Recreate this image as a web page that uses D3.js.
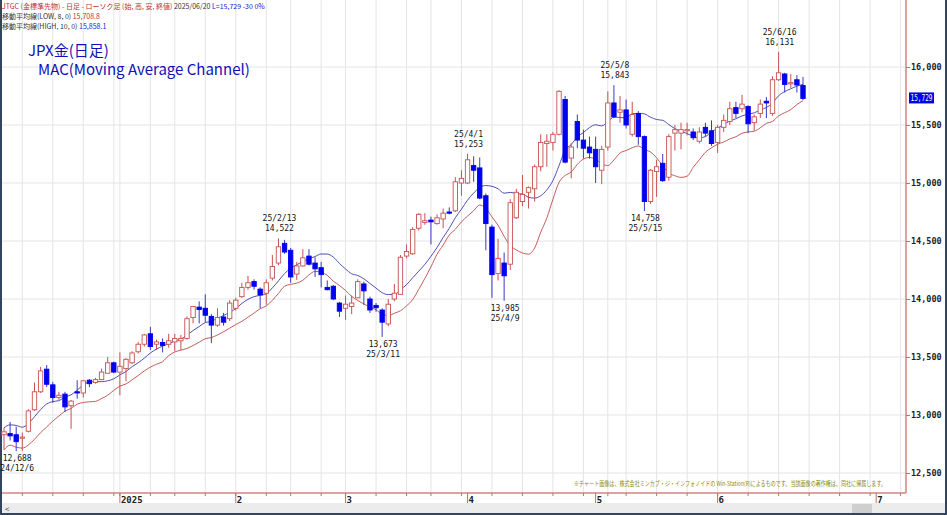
<!DOCTYPE html>
<html><head><meta charset="utf-8">
<script src="https://cdn.jsdelivr.net/npm/d3@7"></script>
<style>
body{margin:0;background:#34445e;}
svg{display:block;font-family:"Noto Sans CJK JP",sans-serif;}
</style></head>
<body>
<div id="chart"></div>
<script>
// trading days shown (OSE, Dec 4 2024 – Jun 20 2025)
const dates = ["24/12/4","24/12/5","24/12/6","24/12/9","24/12/10","24/12/11","24/12/12","24/12/13","24/12/16","24/12/17","24/12/18","24/12/19","24/12/20","24/12/23","24/12/24","24/12/25","24/12/26","24/12/27","24/12/30",
"25/1/6","25/1/7","25/1/8","25/1/9","25/1/10","25/1/14","25/1/15","25/1/16","25/1/17","25/1/20","25/1/21","25/1/22","25/1/23","25/1/24","25/1/27","25/1/28","25/1/29","25/1/30","25/1/31",
"25/2/3","25/2/4","25/2/5","25/2/6","25/2/7","25/2/10","25/2/12","25/2/13","25/2/14","25/2/17","25/2/18","25/2/19","25/2/20","25/2/21","25/2/25","25/2/26","25/2/27","25/2/28",
"25/3/3","25/3/4","25/3/5","25/3/6","25/3/7","25/3/10","25/3/11","25/3/12","25/3/13","25/3/14","25/3/17","25/3/18","25/3/19","25/3/21","25/3/24","25/3/25","25/3/26","25/3/27","25/3/28","25/3/31",
"25/4/1","25/4/2","25/4/3","25/4/4","25/4/7","25/4/8","25/4/9","25/4/10","25/4/11","25/4/14","25/4/15","25/4/16","25/4/17","25/4/18","25/4/21","25/4/22","25/4/23","25/4/24","25/4/25","25/4/28","25/4/30",
"25/5/1","25/5/2","25/5/7","25/5/8","25/5/9","25/5/12","25/5/13","25/5/14","25/5/15","25/5/16","25/5/19","25/5/20","25/5/21","25/5/22","25/5/23","25/5/26","25/5/27","25/5/28","25/5/29","25/5/30",
"25/6/2","25/6/3","25/6/4","25/6/5","25/6/6","25/6/9","25/6/10","25/6/11","25/6/12","25/6/13","25/6/16","25/6/17","25/6/18","25/6/19","25/6/20"];

const open = [12830,12840,12830,12800,12860,13045,13200,13395,13260,13150,13180,13080,13200,13190,13300,13280,13305,13360,13450,
13370,13400,13450,13545,13610,13700,13610,13625,13610,13630,13640,13660,13840,13930,13920,13850,13775,13845,13830,
13920,14020,14100,14150,14085,14050,14180,14310,14480,14420,14215,14285,14370,14310,14270,14100,14110,13965,
13920,13935,14010,14130,14000,13945,13905,13785,14000,14040,14370,14390,14610,14660,14680,14650,14690,14750,14760,15000,
15000,15150,15130,14890,14620,14220,14310,14300,14700,14840,14920,14950,15140,15340,15350,15420,15720,15215,15530,15370,15310,
15290,15110,15310,15690,15610,15630,15420,15600,15400,14840,15100,15170,15050,15430,15430,15450,15440,15360,15480,15450,
15350,15480,15530,15650,15640,15660,15520,15600,15705,15600,15890,15940,15855,15890,15840];
const high = [12890,12940,12900,12850,13050,13280,13415,13430,13285,13200,13200,13130,13300,13300,13310,13320,13400,13500,13460,
13540,13490,13550,13630,13700,13760,13650,13660,13700,13700,13690,13850,13940,13980,14040,13870,13920,13880,13990,
14010,14140,14200,14170,14100,14170,14380,14522,14510,14440,14320,14430,14430,14360,14320,14160,14120,13975,
14030,14030,14170,14150,14020,13965,13920,14000,14130,14380,14470,14620,14740,14740,14710,14730,14780,14790,15050,15110,
15253,15230,15220,14910,14640,14520,14400,14860,14950,15070,14970,15160,15420,15420,15440,15800,15750,15340,15590,15460,15400,
15400,15320,15790,15843,15750,15720,15700,15620,15410,15120,15200,15250,15420,15500,15520,15520,15470,15480,15520,15540,
15500,15590,15700,15700,15760,15670,15590,15720,15740,15920,16131,15950,15940,15930,15915];
const low = [12700,12780,12688,12690,12850,13035,13190,13240,13105,13130,13025,12880,13140,13150,13240,13270,13300,13360,13360,
13170,13290,13440,13530,13590,13560,13560,13540,13580,13550,13560,13650,13790,13790,13800,13620,13760,13770,13810,
13900,14010,14080,14080,13920,13950,14160,14290,14390,14140,14165,14280,14290,14190,14100,14075,13990,13845,
13820,13870,14010,13950,13880,13890,13673,13765,13980,14040,14350,14380,14590,14640,14470,14640,14610,14730,14750,14890,
14990,15010,14860,14420,14010,14160,13985,14250,14690,14800,14780,14840,15100,15140,15280,15410,15170,15040,15300,15210,15210,
15000,14990,15280,15560,15520,15470,15400,15330,14758,14820,14880,15010,15020,15280,15290,15410,15370,15340,15400,15320,
15260,15440,15500,15560,15610,15430,15450,15560,15560,15580,15880,15780,15820,15780,15715];
const close = [12855,12820,12770,12810,13035,13200,13380,13265,13150,13170,13070,13120,13190,13295,13270,13305,13370,13450,13370,
13420,13480,13535,13610,13690,13590,13630,13600,13640,13660,13660,13830,13935,13910,13860,13775,13840,13800,13965,
13990,14100,14140,14110,14035,14140,14280,14450,14405,14190,14285,14355,14300,14260,14210,14080,14000,13895,
13955,13965,14150,14070,13905,13925,13800,13955,14050,14360,14410,14600,14730,14675,14665,14700,14740,14740,15010,15040,
15200,15110,14870,14650,14210,14350,14200,14830,14920,14900,14960,15140,15350,15360,15420,15790,15180,15310,15370,15300,15260,
15140,15290,15690,15570,15630,15500,15590,15400,14840,15110,15140,15020,15400,15460,15460,15460,15390,15440,15430,15340,
15480,15540,15640,15600,15680,15510,15570,15680,15690,15890,15950,15850,15865,15845,15729];

const priceTicks = [12500,13000,13500,14000,14500,15000,15500,16000];
const monthMarks = [{label:"2025",i:19},{label:"2",i:38},{label:"3",i:56},{label:"4",i:76},{label:"5",i:97},{label:"6",i:117},{label:"7",i:143}];
// annotated highs / lows: [index, value, date, position]
const notes = [[2,"12,688","24/12/6","below"],[45,"14,522","25/2/13","above"],[62,"13,673","25/3/11","below"],
[76,"15,253","25/4/1","above"],[82,"13,985","25/4/9","below"],[100,"15,843","25/5/8","above"],
[105,"14,758","25/5/15","below"],[127,"16,131","25/6/16","above"]];
const maLowLabel = "15,708.8", maHighLabel = "15,858.1";

const W = 947, H = 515;
const svg = d3.select("#chart").append("svg").attr("width", W).attr("height", H);

svg.append("rect").attr("width", W).attr("height", H).attr("fill", "#34445e");
svg.append("rect").attr("x", 2).attr("y", 0).attr("width", 943).attr("height", 503).attr("fill", "#fff");
svg.append("rect").attr("x", 2).attr("y", 503).attr("width", 943).attr("height", 10).attr("fill", "#ececec");

const x = d3.scaleLinear().domain([0, 131]).range([4, 803]);
const y = d3.scaleLinear().domain([12500, 16000]).range([473, 67]);
const plotRight = 906, plotBottom = 493;

// weekly grid (first trading day of each week) + future weeks
const weekIdx = [];
dates.forEach((d, i) => {
  if (i === 0) return;
  const a = new Date("20" + dates[i - 1].replace(/\//g, "-"));
  const b = new Date("20" + d.replace(/\//g, "-"));
  if (b.getDay() < a.getDay() || (b - a) > 6 * 864e5) weekIdx.push(i);
});
weekIdx.push(132, 137, 142, 147);

svg.append("g").selectAll("line").data(weekIdx).join("line")
  .attr("x1", d => x(d)).attr("x2", d => x(d))
  .attr("y1", 0).attr("y2", plotBottom)
  .attr("stroke", "#e4e4e4").attr("stroke-width", 1);
svg.append("g").selectAll("line").data(priceTicks).join("line")
  .attr("x1", 2).attr("x2", plotRight)
  .attr("y1", d => y(d)).attr("y2", d => y(d))
  .attr("stroke", "#e4e4e4");

// axes
svg.append("line").attr("x1", plotRight).attr("x2", plotRight).attr("y1", 0).attr("y2", plotBottom)
  .attr("stroke", "#d98080").attr("stroke-width", 1.5);
svg.append("line").attr("x1", 2).attr("x2", plotRight).attr("y1", plotBottom).attr("y2", plotBottom)
  .attr("stroke", "#d98080").attr("stroke-width", 1.5);

const yAxis = svg.append("g").attr("transform", `translate(${plotRight},0)`)
  .call(d3.axisRight(y).tickValues(priceTicks).tickSize(4).tickFormat(d3.format(",")));
yAxis.select(".domain").remove();
yAxis.selectAll("line").attr("stroke", "#c07070");
yAxis.selectAll("text").attr("font-family", "DejaVu Sans Mono").attr("font-weight", "bold")
  .attr("font-size", 8.5).attr("fill", "#222").attr("x", 5);

svg.append("g").selectAll("line").data(weekIdx).join("line")
  .attr("x1", d => x(d)).attr("x2", d => x(d)).attr("y1", plotBottom).attr("y2", plotBottom + 3)
  .attr("stroke", "#c07070");
const mg = svg.append("g").selectAll("g").data(monthMarks).join("g")
  .attr("transform", d => `translate(${x(d.i)},${plotBottom})`);
mg.append("line").attr("y1", 0).attr("y2", 10).attr("stroke", "#c07070");
mg.append("text").attr("x", 1).attr("y", 10).text(d => d.label)
  .attr("font-family", "DejaVu Sans Mono").attr("font-weight", "bold").attr("font-size", 9).attr("fill", "#222");

// moving averages
const idx = d3.range(dates.length);
const ma = (arr, n) => idx.map(i => d3.mean(arr.slice(Math.max(0, i - n + 1), i + 1)));
const maLow = ma(low, 8), maHigh = ma(high, 10);
const line = d3.line().x((d, i) => x(i)).y(d => y(d)).curve(d3.curveMonotoneX);
svg.append("path").attr("d", line(maHigh)).attr("fill", "none").attr("stroke", "#3c3ca8").attr("stroke-width", 0.9);
svg.append("path").attr("d", line(maLow)).attr("fill", "none").attr("stroke", "#c04848").attr("stroke-width", 0.9);

// candles
const up = i => close[i] >= open[i];
const cg = svg.append("g").selectAll("g").data(idx).join("g");
cg.append("line")
  .attr("x1", i => x(i)).attr("x2", i => x(i))
  .attr("y1", i => y(high[i])).attr("y2", i => y(low[i]))
  .attr("stroke", i => up(i) ? "#c85050" : "#3a3ac8");
cg.append("rect")
  .attr("x", i => x(i) - 2.2).attr("width", 4.4)
  .attr("y", i => y(Math.max(open[i], close[i])))
  .attr("height", i => Math.max(1.2, Math.abs(y(open[i]) - y(close[i]))))
  .attr("fill", i => up(i) ? "#fff" : "#0000f0")
  .attr("stroke", i => up(i) ? "#c85050" : "#0000f0").attr("stroke-width", 0.9);

// high / low notes
const ng = svg.append("g").selectAll("g").data(notes).join("g")
  .attr("font-family", "DejaVu Sans Mono").attr("font-size", 8).attr("text-anchor", "middle").attr("fill", "#111");
ng.append("text").attr("x", d => x(d[0]) + 1)
  .attr("y", d => d[3] === "above" ? y(high[d[0]]) - 17 : y(low[d[0]]) + 10).text(d => d[3] === "above" ? d[2] : d[1]);
ng.append("text").attr("x", d => x(d[0]) + 1)
  .attr("y", d => d[3] === "above" ? y(high[d[0]]) - 7 : y(low[d[0]]) + 20).text(d => d[3] === "above" ? d[1] : d[2]);

// last price badge
svg.append("rect").attr("x", 909).attr("y", y(close[131]) - 6).attr("width", 25).attr("height", 11).attr("fill", "#0000e8");
svg.append("text").attr("x", 921.5).attr("y", y(close[131]) + 3).attr("text-anchor", "middle")
  .attr("textLength", 22).attr("lengthAdjust", "spacingAndGlyphs")
  .text(d3.format(",")(close[131]))
  .attr("font-family", "DejaVu Sans Mono").attr("font-size", 8).attr("fill", "#fff");

// header
const hdr = svg.append("g").attr("font-size", 7);
const h1 = hdr.append("text").attr("x", 2).attr("y", 9);
h1.append("tspan").attr("fill", "#c03030").text("JTGC (金標準先物) - 日足 - ローソク足 (始, 高, 安, 終値)");
h1.append("tspan").attr("fill", "#333").text("   2025/06/20 ");
h1.append("tspan").attr("fill", "#2020d0").text("L=15,729  -30   0%");
const h2 = hdr.append("text").attr("x", 2).attr("y", 19);
h2.append("tspan").attr("fill", "#333").text("移動平均線(LOW, 8, 0) ");
h2.append("tspan").attr("fill", "#c03030").text(maLowLabel);
const h3 = hdr.append("text").attr("x", 2).attr("y", 29);
h3.append("tspan").attr("fill", "#333").text("移動平均線(HIGH, 10, 0) ");
h3.append("tspan").attr("fill", "#2020d0").text(maHighLabel);

svg.append("text").attr("x", 28).attr("y", 56).attr("font-size", 15).attr("fill", "#1010b8").text("JPX金(日足)");
svg.append("text").attr("x", 38).attr("y", 75).attr("font-size", 15).attr("fill", "#1010b8").text("MAC(Moving Average Channel)");

svg.append("text").attr("x", 574).attr("y", 486).attr("font-size", 6.5).attr("fill", "#8a8a10")
  .attr("textLength", 312).attr("lengthAdjust", "spacingAndGlyphs")
  .text("※チャート画像は、株式会社ミンカブ・ジ・インフォノイドの Win-Station(R)によるものです。当該画像の著作権は、同社に帰属します。");

svg.append("text").attr("x", 5).attr("y", 512).attr("font-size", 8).attr("fill", "#333").text("<");
svg.append("rect").attr("x", 852).attr("y", 504).attr("width", 20).attr("height", 9).attr("fill", "#cfcfcf");
</script>
</body></html>
